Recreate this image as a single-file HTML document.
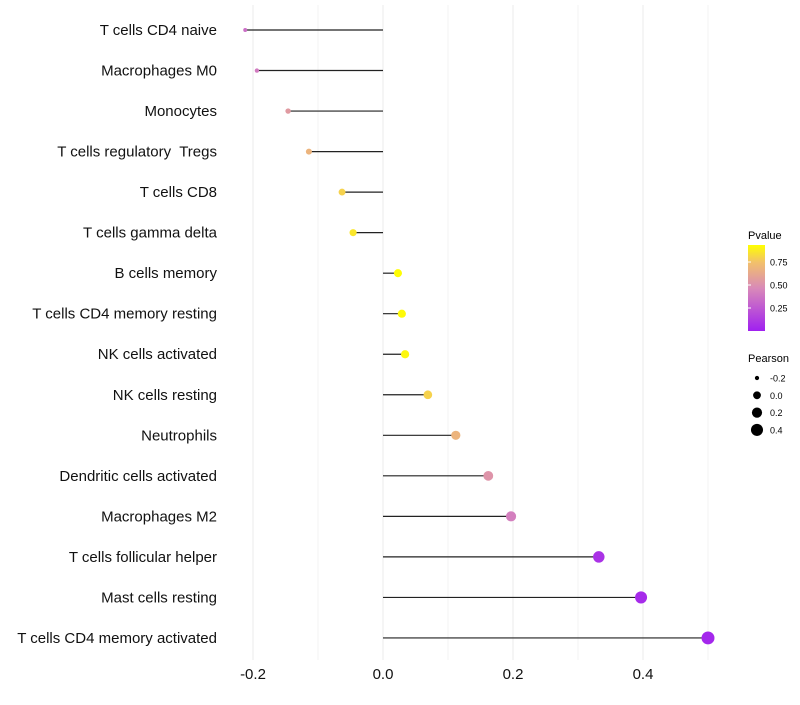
<!DOCTYPE html>
<html><head><meta charset="utf-8"><style>
body{margin:0;background:#fff;}
svg{font-family:"Liberation Sans",sans-serif;}
text{white-space:pre;}
</style></head><body>
<svg id="chart" width="800" height="700" xmlns="http://www.w3.org/2000/svg">
<defs><linearGradient id="pg" x1="0" y1="1" x2="0" y2="0">
<stop offset="0" stop-color="#A020F0"/><stop offset="0.5" stop-color="#D98AB8"/><stop offset="0.8" stop-color="#F2C16A"/><stop offset="1" stop-color="#FFFF00"/>
</linearGradient></defs>
<g id="grid"></g>
<g id="marks"></g>
<g id="ylabels"></g>
<g id="xlabels"></g>
<g>
<text x="748" y="239" font-size="11" fill="#000">Pvalue</text>
<rect x="748" y="245" width="17" height="86" fill="url(#pg)"/>
<g id="cbticks"></g>
</g>
<g id="sizelegend">
<text x="748" y="362" font-size="11" fill="#000">Pearson</text>
</g>
</svg>
<script>
const categories=["T cells CD4 naive","Macrophages M0","Monocytes","T cells regulatory  Tregs","T cells CD8","T cells gamma delta","B cells memory","T cells CD4 memory resting","NK cells activated","NK cells resting","Neutrophils","Dendritic cells activated","Macrophages M2","T cells follicular helper","Mast cells resting","T cells CD4 memory activated"];
const pearson=[-0.212,-0.194,-0.146,-0.114,-0.063,-0.046,0.023,0.029,0.034,0.069,0.112,0.162,0.197,0.332,0.397,0.5];
const pvalue=[0.35,0.4,0.55,0.68,0.8,0.86,0.93,0.92,0.91,0.8,0.68,0.52,0.42,0.08,0.05,0.03];
const xTicks=[-0.2,0.0,0.2,0.4];
const xTickLabels=["-0.2","0.0","0.2","0.4"];
const cbTicks=[0.25,0.5,0.75];
const cbTickLabels=["0.25","0.50","0.75"];
const sizeBreaks=[-0.2,0.0,0.2,0.4];
const sizeLabels=["-0.2","0.0","0.2","0.4"];
const NS="http://www.w3.org/2000/svg";
const x=v=>383+v*650;
const y=i=>30+i*40.53;
const r=v=>Math.sqrt(Math.max(1,15.2+53.5*v));
const pmax=0.935;
const cy=p=>331-p/pmax*86;
function lerp(a,b,t){return a+(b-a)*t;}
const stops=[[0,[160,32,240]],[0.5,[217,138,184]],[0.8,[242,193,106]],[1,[255,255,0]]];
function col(p){let t=Math.min(1,Math.max(0,p/pmax));for(let k=1;k<stops.length;k++){if(t<=stops[k][0]){const a=stops[k-1],b=stops[k];const u=(t-a[0])/(b[0]-a[0]);return "rgb("+a[1].map((c,j)=>Math.round(lerp(c,b[1][j],u))).join(",")+")";}}return "rgb(255,255,0)";}
function mk(tag,at,parent){const e=document.createElementNS(NS,tag);for(const k in at)e.setAttribute(k,at[k]);document.getElementById(parent).appendChild(e);return e;}
for(let k=-2;k<=5;k++){const g=k/10;const l=mk("line",{x1:x(g),x2:x(g),y1:5,y2:660,stroke:"#EBEBEB","stroke-width":k%2===0?1:0.6},"grid");

}
categories.forEach((c,i)=>{
const ln=mk("line",{x1:x(0),x2:x(pearson[i]),y1:y(i),y2:y(i),stroke:"#222","stroke-width":1.2},"marks");


const ci=mk("circle",{cx:x(pearson[i]),cy:y(i),r:r(pearson[i]),fill:col(pvalue[i])},"marks");


const t=mk("text",{x:217,y:y(i)+5,"text-anchor":"end","font-size":15,fill:"#111"},"ylabels");t.textContent=c;


});
xTicks.forEach((v,i)=>{const t=mk("text",{x:x(v),y:679,"text-anchor":"middle","font-size":15,fill:"#111"},"xlabels");t.textContent=xTickLabels[i];

});
cbTicks.forEach((v,i)=>{
const a=mk("line",{x1:748,x2:751,y1:cy(v),y2:cy(v),stroke:"#fff"},"cbticks");


const t=mk("text",{x:770,y:cy(v)+3.5,"font-size":9,fill:"#000"},"cbticks");t.textContent=cbTickLabels[i];

});
sizeBreaks.forEach((v,i)=>{const yy=378+i*17.3;
const c=mk("circle",{cx:757,cy:yy,r:r(v),fill:"#000"},"sizelegend");


const t=mk("text",{x:770,y:yy+3.5,"font-size":9,fill:"#000"},"sizelegend");t.textContent=sizeLabels[i];

});
</script>
</body></html>
